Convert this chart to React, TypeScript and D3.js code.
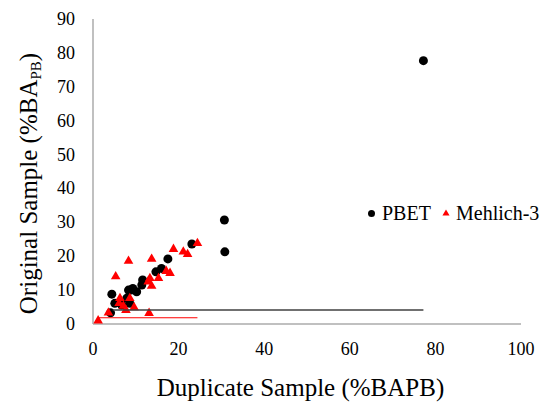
import React from 'react';
import * as d3 from 'd3';

// PBET series [duplicate, original]
const pbet: [number, number][] = [
	[4.1, 3.3], [5.1, 6.1], [6.7, 5.6], [8.6, 6.1], [7.9, 7.6], [4.4, 8.8],
	[8.3, 10.0], [9.3, 10.5], [10.2, 9.5], [8.9, 10.0], [11.4, 11.5], [11.6, 13.0],
	[14.7, 15.4], [16.0, 16.4], [17.5, 19.2], [23.1, 23.6], [30.8, 21.3],
	[30.7, 30.7], [77.2, 77.7]
];

// Mehlich-3 series [duplicate, original]
const mehlich: [number, number][] = [
	[1.2, 1.0], [3.6, 3.3], [13.1, 3.2], [7.7, 4.1], [9.6, 4.9], [7.1, 5.3],
	[6.1, 6.1], [6.3, 7.6], [8.6, 7.6], [13.7, 11.2], [12.9, 12.5], [13.3, 13.5],
	[15.3, 13.5], [5.3, 14.0], [17.1, 15.6], [18.0, 15.0], [8.3, 18.6],
	[13.7, 19.2], [18.8, 22.1], [21.1, 21.3], [22.1, 20.6], [24.4, 23.8]
];

// flat lines across each series' range
const pbetLine: [number, number][] = [[4.6, 4.1], [77.2, 4.1]];
const mehlichLine: [number, number][] = [[1.0, 1.85], [24.4, 1.85]];

const xTicks = [0, 20, 40, 60, 80, 100];
const yTicks = [0, 10, 20, 30, 40, 50, 60, 70, 80, 90];

const W = 544, H = 402;
const txt = { fontFamily: "'Liberation Serif', 'DejaVu Serif', Times, serif" };

export default function App() {
	const x = d3.scaleLinear().domain([0, 100]).range([93, 521]);
	const y = d3.scaleLinear().domain([0, 90]).range([324, 19]);
	const line = d3.line<[number, number]>().x(d => x(d[0])).y(d => y(d[1]));
	const tri = d3.symbol().type(d3.symbolTriangle).size(40)();
	const triSmall = d3.symbol().type(d3.symbolTriangle).size(22)();

	return (
		<svg width={W} height={H} style={{ position: 'absolute', left: 0, top: 0 }}>
			<rect width={W} height={H} fill="#fff" />

			{/* axes */}
			<line x1={x(0)} x2={x(0)} y1={y(90)} y2={y(0)} stroke="#c0c0c0" strokeWidth={2} />
			<line x1={x(0)} x2={x(100)} y1={y(0)} y2={y(0)} stroke="#c0c0c0" strokeWidth={2} />

			{yTicks.map(t =>
				<text key={'y' + t} style={txt} x={75} y={y(t) + 6} textAnchor="end" fontSize={18} fill="#000">{t}</text>
			)}
			{xTicks.map(t =>
				<text key={'x' + t} style={txt} x={x(t)} y={355} textAnchor="middle" fontSize={18} fill="#000">{t}</text>
			)}

			{/* markers */}
			{pbet.map((d, i) =>
				<circle key={'p' + i} cx={x(d[0])} cy={y(d[1])} r={4.5} fill="#000" />
			)}
			{mehlich.map((d, i) =>
				<path key={'m' + i} d={tri} transform={`translate(${x(d[0])},${y(d[1])})`} fill="#ff0000" />
			)}

			{/* lines */}
			<path d={line(pbetLine)} stroke="#404040" strokeWidth={1.5} fill="none" />
			<path d={line(mehlichLine)} stroke="#ff0000" strokeWidth={1.2} fill="none" />

			{/* legend */}
			<circle cx={371.5} cy={213.5} r={3.5} fill="#000" />
			<text style={txt} x={382} y={220} fontSize={20} fill="#000">PBET</text>
			<path d={triSmall} transform="translate(446,213.5)" fill="#ff0000" />
			<text style={txt} x={456} y={220} fontSize={20} fill="#000">Mehlich-3</text>

			{/* titles */}
			<text style={txt} x={300.5} y={396} textAnchor="middle" fontSize={25} fill="#000">Duplicate Sample (%BAPB)</text>
			<text style={txt} transform="translate(37,183.5) rotate(-90)" textAnchor="middle" fontSize={25} fill="#000">
				Original Sample (%BA<tspan fontSize={15} dy={4}>PB</tspan><tspan dy={-4}>)</tspan>
			</text>
		</svg>
	);
}
